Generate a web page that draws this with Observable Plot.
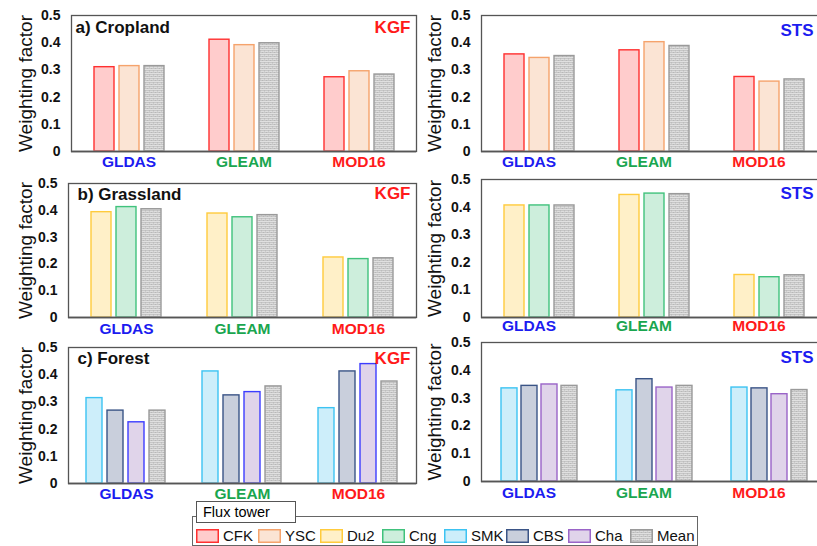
<!DOCTYPE html>
<html><head><meta charset="utf-8">
<script src="https://cdn.jsdelivr.net/npm/d3@7"></script>
<script src="https://cdn.jsdelivr.net/npm/@observablehq/plot@0.6"></script>
<style>
body{margin:0;background:#fff;font-family:"Liberation Sans",Arial,sans-serif;}
#root{position:relative;width:817px;height:546px;overflow:hidden;background:#fff;}
.panel{position:absolute;}
.panel svg{max-width:none !important;}
#legend{position:absolute;left:192px;top:516px;width:504px;height:28px;border:1px solid #666;box-sizing:content-box;}
#legtitle{position:absolute;left:196px;top:501px;border:1px solid #555;background:#fff;font-size:14.5px;line-height:20px;padding-left:6px;box-sizing:border-box;width:100px;height:22px;}
.item{position:absolute;top:10px;display:flex;align-items:center;font-size:15px;color:#111;}
.item svg{margin-right:4px;}
</style></head><body>
<svg width="0" height="0" style="position:absolute">
  <defs>
    <pattern id="hatch" patternUnits="userSpaceOnUse" width="4" height="4">
      <rect width="4" height="4" fill="#c6c6c6"/>
      <path d="M0 1 L1 0 L2 1 L3 0 L4 1" stroke="#f2f2f2" stroke-width="0.6" fill="none"/>
      <path d="M0 3 L1 2 L2 3 L3 2 L4 3" stroke="#ececec" stroke-width="0.6" fill="none"/>
      <rect x="1" y="1.6" width="0.8" height="0.8" fill="#a8a8a8"/>
      <rect x="3" y="3.4" width="0.8" height="0.6" fill="#a8a8a8"/>
    </pattern>
  </defs>
</svg>
<div id="root"></div>
<script>
// ---- data ----
const products = ["GLDAS", "GLEAM", "MOD16"];
const productColors = ["#1c1cf0", "#1aa64f", "#ff1a1a"];
const sites = ["CFK", "YSC", "Du2", "Cng", "SMK", "CBS", "Cha", "Mean"];
const siteFills = ["#ffcccc", "#fbe4d4", "#fff0c8", "#cdeedc", "#cdeefa", "#c9cfdc", "#e0d4ea", "url(#hatch)"];
const siteStrokes = ["#ff3030", "#f5a36c", "#ffcb3c", "#40c27c", "#3cc3f2", "#3a5486", "#9a64c8", "#9a9a9a"];

const croplandSites = ["CFK", "YSC", "Mean"];
const grasslandSites = ["Du2", "Cng", "Mean"];
const forestSites = ["SMK", "CBS", "Cha", "Mean"];

// rows: GLDAS, GLEAM, MOD16 ; columns: sites of the land type
const croplandKGF = [[0.310, 0.314, 0.314], [0.411, 0.391, 0.398], [0.273, 0.295, 0.283]];
const croplandSTS = [[0.357, 0.344, 0.351], [0.372, 0.402, 0.388], [0.274, 0.257, 0.265]];
const grasslandKGF = [[0.393, 0.412, 0.404], [0.388, 0.374, 0.382], [0.224, 0.218, 0.221]];
const grasslandSTS = [[0.406, 0.406, 0.406], [0.444, 0.449, 0.447], [0.154, 0.146, 0.153]];
const forestKGF = [[0.314, 0.268, 0.225, 0.268], [0.412, 0.324, 0.336, 0.357], [0.277, 0.412, 0.439, 0.375]];
const forestSTS = [[0.335, 0.344, 0.349, 0.344], [0.328, 0.368, 0.338, 0.344], [0.338, 0.335, 0.314, 0.329]];

const yTicks = [0, 0.1, 0.2, 0.3, 0.4, 0.5];
const yLabel = "Weighting factor";
const panelTitles = ["a) Cropland", "b) Grassland", "c) Forest"];
const methods = ["KGF", "STS"];
const methodColors = ["#ff1a1a", "#1c1cf0"];
const legendTitle = "Flux tower";

// ---- layout ----
const FONT = "'Liberation Sans', Arial, sans-serif";
const panels = [
  {sites: croplandSites, values: croplandKGF, title: panelTitles[0], method: 0, col: 0, top: 15, bottom: 151, left: 71, titleDx: 4, titleDy: 12, methodDy: 12, labelDy: 11},
  {sites: croplandSites, values: croplandSTS, title: null, method: 1, col: 1, top: 15, bottom: 151, left: 480, methodDy: 15, labelDy: 11},
  {sites: grasslandSites, values: grasslandKGF, title: panelTitles[1], method: 0, col: 0, top: 183, bottom: 317, left: 68, titleDx: 9, titleDy: 11, methodDy: 10, labelDy: 12},
  {sites: grasslandSites, values: grasslandSTS, title: null, method: 1, col: 1, top: 179, bottom: 317, left: 480, methodDy: 14, labelDy: 9},
  {sites: forestSites, values: forestKGF, title: panelTitles[2], method: 0, col: 0, top: 347, bottom: 483, left: 68, titleDx: 9, titleDy: 11, methodDy: 11, labelDy: 11, strokeOverride: {Cha: "#3d3dff"}},
  {sites: forestSites, values: forestSTS, title: null, method: 1, col: 1, top: 342, bottom: 481, left: 480, methodDy: 15, labelDy: 12}
];

const root = document.getElementById("root");

for (const cfg of panels) {
  const rows = [];
  cfg.values.forEach((vals, i) => vals.forEach((v, j) => rows.push({product: products[i], site: cfg.sites[j], value: v})));
  const fillOf = s => siteFills[sites.indexOf(s)];
  const strokeOf = s => (cfg.strokeOverride && cfg.strokeOverride[s]) || siteStrokes[sites.indexOf(s)];
  const right = cfg.col === 1;
  const svgLeft = right ? 410 : 0;
  const frameRight = right ? 826 : 416;
  const mt = 6, mb = 24;
  const ml = cfg.left - svgLeft;
  const mr = 4;
  const width = frameRight + mr - svgLeft;
  const height = mt + (cfg.bottom - cfg.top) + mb;

  const marks = [
    Plot.barY(rows, {fx: "product", x: "site", y: "value", fill: d => fillOf(d.site), stroke: d => strokeOf(d.site), strokeWidth: 1.4}),
    Plot.ruleY([0], {stroke: "#8a8a8a", strokeWidth: 2}),
    Plot.frame({facet: "super", stroke: "#555", strokeWidth: 1.3}),
    Plot.axisY({ticks: yTicks, tickSize: 0, tickPadding: 11, tickFormat: d => d === 0 ? "0" : d.toFixed(1), fontSize: 14, fontWeight: "bold", label: null, fill: "#111"}),
    Plot.text(products, {fx: d => d, text: d => d, frameAnchor: "bottom", lineAnchor: "middle", textAnchor: "middle", dy: cfg.labelDy, dx: right ? -10 : 0, fill: d => productColors[products.indexOf(d)], fontSize: 15.5, fontWeight: "bold"}),
    Plot.text([yLabel], {facet: "super", text: d => d, frameAnchor: "left", textAnchor: "middle", lineAnchor: "middle", rotate: -90, dx: right ? -47 : -46 + (cfg.left === 68 ? 3 : 0), fontSize: 19, fill: "#111"}),
    Plot.text([methods[cfg.method]], {facet: "super", text: d => d, frameAnchor: "top-right", textAnchor: "end", lineAnchor: "middle", dx: right ? -13 : -6, dy: cfg.methodDy, fill: methodColors[cfg.method], fontSize: 17, fontWeight: "bold"})
  ];
  if (cfg.title) {
    marks.push(Plot.text([cfg.title], {facet: "super", text: d => d, frameAnchor: "top-left", textAnchor: "start", lineAnchor: "middle", dx: cfg.titleDx, dy: cfg.titleDy, fill: "#111", fontSize: 17, fontWeight: "bold"}));
  }

  const chart = Plot.plot({
    width, height,
    marginTop: mt, marginBottom: mb, marginLeft: ml, marginRight: mr,
    style: {fontFamily: FONT, background: "transparent", overflow: "visible", maxWidth: "none"},
    color: {type: "identity"},
    fx: {domain: products, padding: 0, axis: null, label: null},
    x: {domain: cfg.sites, paddingInner: 0.22, paddingOuter: 0.85, axis: null},
    y: {domain: [0, 0.5], axis: null},
    marks
  });
  const div = document.createElement("div");
  div.className = "panel";
  div.style.left = svgLeft + "px";
  div.style.top = (cfg.top - mt) + "px";
  div.style.width = width + "px";
  div.appendChild(chart);
  root.appendChild(div);
}

// ---- legend ----
const legend = document.createElement("div");
legend.id = "legend";
root.appendChild(legend);
sites.forEach((s, i) => {
  const item = document.createElement("div");
  item.className = "item";
  item.style.left = (3 + i * 62) + "px";
  item.innerHTML = `<svg width="23" height="14"><rect x="0.75" y="0.75" width="21.5" height="12.5" fill="${siteFills[i]}" stroke="${siteStrokes[i]}" stroke-width="1.5"/></svg><span>${s}</span>`;
  legend.appendChild(item);
});
const lt = document.createElement("div");
lt.id = "legtitle";
lt.textContent = legendTitle;
root.appendChild(lt);
</script>
</body></html>
